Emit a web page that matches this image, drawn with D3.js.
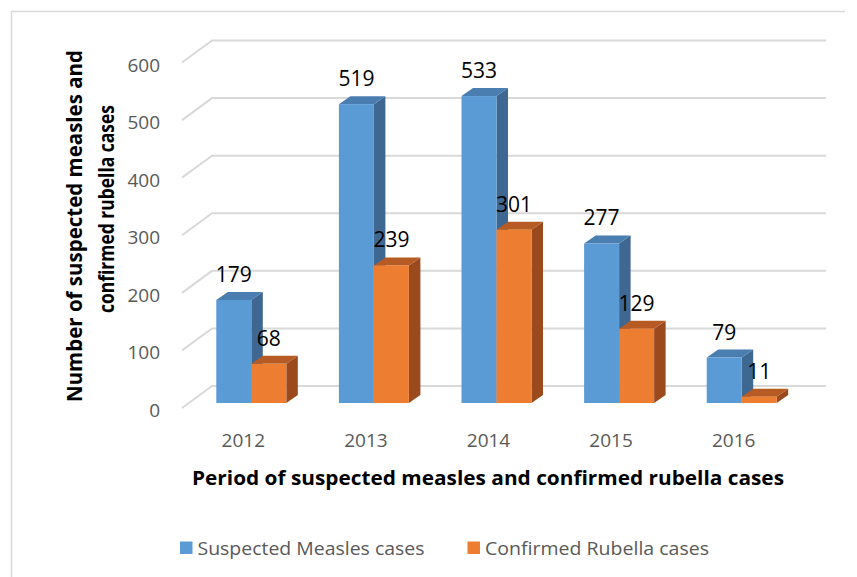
<!DOCTYPE html>
<html>
<head>
<meta charset="utf-8">
<script src="https://cdn.jsdelivr.net/npm/d3@7"></script>
<style>
  body { margin: 0; background: #fff; }
  svg text { font-family: "Open Sans", "Noto Sans", sans-serif; }
</style>
</head>
<body>
<div id="chart"></div>
<script>
// ---- data ----
var years = ["2012", "2013", "2014", "2015", "2016"];
var seriesNames = ["Suspected Measles cases", "Confirmed Rubella cases"];
var measles = [179, 519, 533, 277, 79];
var rubella = [68, 239, 301, 129, 11];
var yTicks = [0, 100, 200, 300, 400, 500, 600];

var width = 857, height = 577;
var colors = {
  front: ["#5B9BD5", "#ED7D31"],
  top:   ["#4A7DB0", "#B65B24"],
  side:  ["#3E6791", "#9A4A1D"]
};

var svg = d3.select("#chart").append("svg")
    .attr("width", width).attr("height", height);

// frame
svg.append("path")
    .attr("d", "M11.5," + height + "V11.5H845")
    .attr("fill", "none").attr("stroke", "#d9d9d9").attr("stroke-width", 1.5);

// back wall scales
var x = d3.scaleBand().domain(years).range([212, 825]);
var y = d3.scaleLinear().domain([0, 600]).range([386, 40.5]);
var sub = d3.scaleBand().domain(seriesNames).range([-35, 35]);

var floorDX = -30, floorDY = 22;     // back wall -> front edge
var faceDX = -22, faceDY = 17;       // back wall -> bar front face
var depthDX = 11.5, depthDY = -8;    // bar depth

//==== gridlines ====
var grid = svg.append("g").attr("class", "grid")
    .attr("stroke", "#d9d9d9").attr("stroke-width", 2).attr("fill", "none");
grid.selectAll("path").data(yTicks).enter().append("path")
    .attr("d", function(d){
        var yy = y(d);
        return "M" + (x.range()[0] + floorDX) + "," + (yy + floorDY) +
               "L" + x.range()[0] + "," + yy + "H" + (x.range()[1] + 1);
    });

// y tick labels
svg.append("g").selectAll("text").data(yTicks).enter().append("text")
    .attr("x", 160).attr("y", function(d){ return y(d) + floorDY + 2; })
    .attr("text-anchor", "end").attr("dominant-baseline", "central")
    .attr("fill", "#595959").attr("font-size", 19)
    .text(function(d){ return d; });

// x tick labels
svg.append("g").selectAll("text").data(years).enter().append("text")
    .attr("x", function(d){ return x(d) + x.bandwidth()/2 + floorDX; })
    .attr("y", 440)
    .attr("text-anchor", "middle").attr("dominant-baseline", "central")
    .attr("fill", "#595959").attr("font-size", 19)
    .text(function(d){ return d; });

//==== bars ====
var bars = [];
years.forEach(function(yr, i){
    bars.push({year: yr, s: 0, v: measles[i]});
    bars.push({year: yr, s: 1, v: rubella[i]});
});
var bw = sub.bandwidth();
function barGeom(d){
    var x0 = x(d.year) + x.bandwidth()/2 + sub(seriesNames[d.s]) + faceDX;
    var yt = y(d.v) + faceDY, yb = y(0) + faceDY;
    return {x0: x0, x1: x0 + bw, yt: yt, yb: yb};
}
var barG = svg.append("g").attr("class", "bars");
bars.forEach(function(d){
    var g = barGeom(d);
    var b = barG.append("g");
    b.append("path").attr("fill", colors.side[d.s])
        .attr("d", "M" + g.x1 + "," + g.yt + "L" + (g.x1 + depthDX) + "," + (g.yt + depthDY) +
                   "L" + (g.x1 + depthDX) + "," + (g.yb + depthDY) + "L" + g.x1 + "," + g.yb + "Z");
    b.append("path").attr("fill", colors.top[d.s])
        .attr("d", "M" + g.x0 + "," + g.yt + "L" + (g.x0 + depthDX) + "," + (g.yt + depthDY) +
                   "L" + (g.x1 + depthDX) + "," + (g.yt + depthDY) + "L" + g.x1 + "," + g.yt + "Z");
    b.append("rect").attr("fill", colors.front[d.s])
        .attr("x", g.x0).attr("y", g.yt).attr("width", bw).attr("height", g.yb - g.yt);
});

// value labels
svg.append("g").selectAll("text").data(bars).enter().append("text")
    .attr("x", function(d){ var g = barGeom(d); return (g.x0 + g.x1)/2; })
    .attr("y", function(d){ return barGeom(d).yt - 18; })
    .attr("text-anchor", "middle").attr("fill", "#000").attr("font-size", 21)
    .text(function(d){ return d.v; });

//==== axis titles ====
svg.append("text")
    .attr("x", 488).attr("y", 485)
    .attr("text-anchor", "middle").attr("font-weight", "bold").attr("font-size", 20)
    .attr("textLength", 592).attr("lengthAdjust", "spacingAndGlyphs")
    .text("Period of suspected measles and confirmed rubella cases");

svg.append("text")
    .attr("transform", "translate(82,226) rotate(-90)")
    .attr("text-anchor", "middle").attr("font-weight", "bold").attr("font-size", 21)
    .attr("textLength", 352).attr("lengthAdjust", "spacingAndGlyphs")
    .text("Number of suspected measles and");
svg.append("text")
    .attr("transform", "translate(114,209) rotate(-90)")
    .attr("text-anchor", "middle").attr("font-weight", "bold").attr("font-size", 21)
    .attr("textLength", 208).attr("lengthAdjust", "spacingAndGlyphs")
    .text("confirmed rubella cases");

//==== legend ====
var legendX = [180, 467.5], legendW = [227, 224];
var legend = svg.append("g").selectAll("g").data(seriesNames).enter().append("g")
    .attr("transform", function(d, i){ return "translate(" + legendX[i] + ",548)"; });
legend.append("rect")
    .attr("x", 0).attr("y", -6.5).attr("width", 12.5).attr("height", 12.5)
    .attr("fill", function(d, i){ return colors.front[i]; });
legend.append("text")
    .attr("x", 17.5).attr("y", 0).attr("dominant-baseline", "central")
    .attr("fill", "#595959").attr("font-size", 19)
    .attr("textLength", function(d, i){ return legendW[i]; })
    .attr("lengthAdjust", "spacingAndGlyphs")
    .text(function(d){ return d; });
</script>
</body>
</html>
